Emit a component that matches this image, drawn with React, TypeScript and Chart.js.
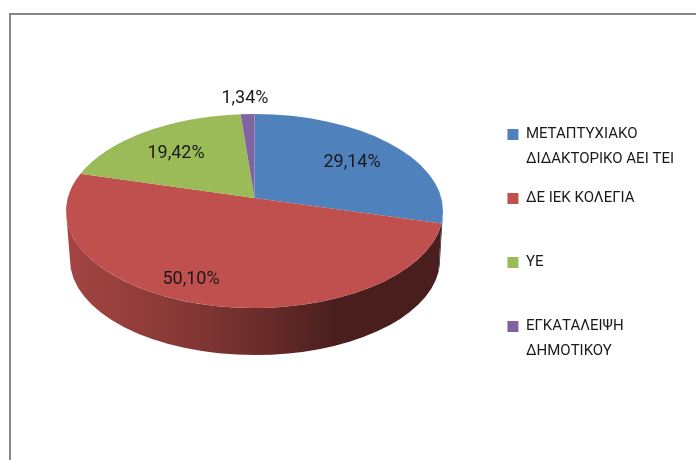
import React, { useEffect, useRef } from "react";
import { Chart, registerables } from "chart.js";

Chart.register(...registerables);

const categories = [
  ["ΜΕΤΑΠΤΥΧΙΑΚΟ", "ΔΙΔΑΚΤΟΡΙΚΟ ΑΕΙ ΤΕΙ"],
  ["ΔΕ ΙΕΚ ΚΟΛΕΓΙΑ", ""],
  ["ΥΕ", ""],
  ["ΕΓΚΑΤΑΛΕΙΨΗ", "ΔΗΜΟΤΙΚΟΥ"],
];
const shares = [29.14, 50.1, 19.42, 1.34];
const sliceColors = ["#4f81bd", "#c0504d", "#9bbb59", "#8064a2"];
const labelAnchors = [
  [352, 162],
  [191, 279],
  [176, 153],
  [245, 98],
];

const FONT = 'Roboto, "Noto Sans", sans-serif';

// Tilted disc: top face, bottom rim and the point the slices meet at.
const disc = {
  cx: 254.5,
  cy: 211,
  rx: 188.5,
  ry: 97,
  bottomCx: 255,
  bottomCy: 260,
  bottomRx: 185,
  bottomRy: 95,
  skew: -0.134,
};

// Shade stops for the rim, left to right, as a fraction of the slice colour.
const rimShade = [
  [0, 0.86],
  [0.27, 0.72],
  [0.5, 0.57],
  [0.72, 0.38],
  [1, 0.38],
];

const shadeColor = (hex: string, f: number) => {
  const n = parseInt(hex.slice(1), 16);
  const r = Math.round(((n >> 16) & 255) * f);
  const g = Math.round(((n >> 8) & 255) * f);
  const b = Math.round((n & 255) * f);
  return `rgb(${r},${g},${b})`;
};

// Projects a circle angle onto the tilted disc, so the near half looks larger.
const tiltAngle = (theta: number) => {
  const a = disc.skew;
  const s = Math.sin(theta);
  const c = Math.cos(theta);
  const d = 1 + a * s;
  const phi = Math.atan2((s + a) / d, (c * Math.sqrt(1 - a * a)) / d);
  const turns = Math.round((theta - phi) / (2 * Math.PI));
  return phi + turns * 2 * Math.PI;
};

const tiltedPie = {
  id: "tiltedPie",
  beforeDatasetDraw(chart: any, args: any) {
    const { ctx } = chart;
    const arcs = args.meta.data;
    const apexY = disc.cy + disc.skew * disc.ry;

    // Rim first: only the part of each slice facing the viewer.
    arcs.forEach((arc: any, i: number) => {
      const from = Math.max(tiltAngle(arc.startAngle), 0);
      const to = Math.min(tiltAngle(arc.endAngle), Math.PI);
      if (to <= from) return;
      const g = ctx.createLinearGradient(disc.cx - disc.rx, 0, disc.cx + disc.rx, 0);
      rimShade.forEach(([p, f]) => g.addColorStop(p, shadeColor(sliceColors[i], f)));
      ctx.beginPath();
      ctx.ellipse(disc.cx, disc.cy, disc.rx, disc.ry, 0, from, to);
      ctx.ellipse(disc.bottomCx, disc.bottomCy, disc.bottomRx, disc.bottomRy, 0, to, from, true);
      ctx.closePath();
      ctx.fillStyle = g;
      ctx.fill();
    });

    // Top face, one wedge per slice from the angles the chart computed.
    arcs.forEach((arc: any, i: number) => {
      ctx.beginPath();
      ctx.moveTo(disc.cx, apexY);
      ctx.ellipse(disc.cx, disc.cy, disc.rx, disc.ry, 0, tiltAngle(arc.startAngle), tiltAngle(arc.endAngle));
      ctx.closePath();
      ctx.fillStyle = sliceColors[i];
      ctx.fill();
    });

    // Percentages with a decimal comma.
    ctx.save();
    ctx.font = `18px ${FONT}`;
    ctx.fillStyle = "#1a1a1a";
    ctx.textAlign = "center";
    ctx.textBaseline = "middle";
    shares.forEach((v, i) => {
      const [x, y] = labelAnchors[i];
      ctx.fillText(`${v.toFixed(2).replace(".", ",")}%`, x, y);
    });
    ctx.restore();
    return false;
  },
};

export default function App() {
  const ref = useRef<HTMLCanvasElement>(null);

  useEffect(() => {
    const chart = new Chart(ref.current as HTMLCanvasElement, {
      type: "pie",
      data: {
        labels: categories as any,
        datasets: [{ data: shares, backgroundColor: sliceColors, borderWidth: 0 }],
      },
      options: {
        responsive: false,
        animation: false,
        layout: { padding: { top: 113, right: 12, bottom: 60, left: 66 } },
        plugins: {
          tooltip: { enabled: false },
          legend: {
            position: "right",
            align: "start",
            onClick: undefined,
            labels: {
              boxWidth: 11,
              boxHeight: 11,
              padding: 14,
              color: "#1a1a1a",
              font: { family: FONT, size: 15, lineHeight: 25 / 15 },
            },
          },
        },
      },
      plugins: [tiltedPie],
    } as any);
    return () => chart.destroy();
  }, []);

  return (
    <>
      <div
        style={{
          position: "absolute",
          left: 9,
          top: 13,
          right: 0,
          height: 447,
          borderLeft: "2px solid #868686",
          borderTop: "2px solid #868686",
          boxSizing: "border-box",
        }}
      />
      <canvas
        ref={ref}
        width={696}
        height={460}
        style={{ position: "absolute", left: 0, top: 0, width: 696, height: 460 }}
      />
    </>
  );
}
